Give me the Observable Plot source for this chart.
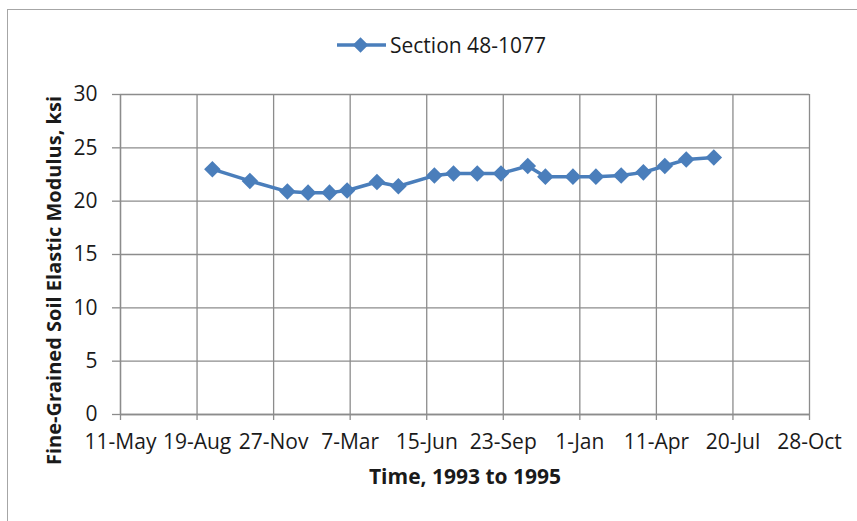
<!DOCTYPE html>
<html>
<head>
<meta charset="utf-8">
<script src="https://cdn.jsdelivr.net/npm/d3@7"></script>
<script src="https://cdn.jsdelivr.net/npm/@observablehq/plot@0.6"></script>
<style>
  body { margin: 0; background: #fff; }
  #wrap { position: relative; width: 857px; height: 521px; overflow: hidden; background: #fff; font-family: "Open Sans", sans-serif; }
  #frame { position: absolute; left: 7px; top: 9px; width: 900px; height: 600px; border-left: 1.5px solid #a6a6a6; border-top: 1.5px solid #a6a6a6; pointer-events: none; }
  #legend { position: relative; height: 60px; }
  #legend .item { position: absolute; left: 337px; top: 30px; height: 30px; display: flex; align-items: center; font-size: 21px; color: #1a1a1a; white-space: nowrap; }
  #legend svg { margin-right: 4px; }
  #chart svg { display: block; }
</style>
</head>
<body>
<div id="wrap">
  <div id="frame"></div>
  <div id="legend"><div class="item"><svg width="49" height="16"><line x1="0" y1="8" x2="49" y2="8" stroke="#4a7ebb" stroke-width="3.5"/><rect x="18" y="2.5" width="11" height="11" fill="#4a7ebb" transform="rotate(45 23.5 8)"/></svg><span id="legendText"></span></div></div>
  <div id="chart"></div>
</div>
<script>
const seriesName = "Section 48-1077";
const dates = ["1993-09-08","1993-10-27","1993-12-15","1994-01-11","1994-02-08","1994-03-03","1994-04-11","1994-05-09","1994-06-25","1994-07-20","1994-08-20","1994-09-20","1994-10-25","1994-11-17","1994-12-23","1995-01-22","1995-02-24","1995-03-25","1995-04-22","1995-05-20","1995-06-25"];
const modulus = [23.0, 21.9, 20.9, 20.8, 20.8, 21.0, 21.8, 21.4, 22.4, 22.6, 22.6, 22.6, 23.3, 22.3, 22.3, 22.3, 22.4, 22.7, 23.3, 23.9, 24.1];
const xTickDates = ["1993-05-11","1993-08-19","1993-11-27","1994-03-07","1994-06-15","1994-09-23","1995-01-01","1995-04-11","1995-07-20","1995-10-28"];
const yTicks = [0, 5, 10, 15, 20, 25, 30];
const xTitle = "Time, 1993 to 1995";
const yTitle = "Fine-Grained Soil Elastic Modulus, ksi";

document.getElementById("legendText").textContent = seriesName;

const data = dates.map((d, i) => ({date: new Date(d + "T00:00:00Z"), value: modulus[i]}));
const xt = xTickDates.map(d => new Date(d + "T00:00:00Z"));
const blue = "#4a7ebb";
const gridColor = "#8c8c8c";
const fmt = d3.utcFormat("%-d-%b");

const chart = Plot.plot({
  width: 857,
  height: 461,
  marginLeft: 120,
  marginRight: 48,
  marginTop: 34,
  marginBottom: 107,
  style: {fontFamily: "'Open Sans', sans-serif", fontSize: "21px", color: "#1a1a1a", background: "transparent", overflow: "visible"},
  x: {type: "utc", domain: [xt[0], xt[xt.length - 1]]},
  y: {domain: [0, 30]},
  marks: [
    Plot.gridY(yTicks, {stroke: gridColor, strokeOpacity: 1, strokeWidth: 1.3}),
    Plot.gridX(xt, {stroke: gridColor, strokeOpacity: 1, strokeWidth: 1.3}),
    Plot.axisY(yTicks, {tickSize: 8, tickPadding: 15, stroke: gridColor, strokeWidth: 1.3, label: null}),
    Plot.axisX(xt, {tickSize: 6, tickPadding: 14, stroke: gridColor, strokeWidth: 1.3, tickFormat: fmt, label: null}),
    Plot.ruleY([0], {stroke: gridColor, strokeWidth: 1.3}),
    Plot.ruleX([xt[0]], {stroke: gridColor, strokeWidth: 1.3}),
    Plot.line(data, {x: "date", y: "value", stroke: blue, strokeWidth: 3.5}),
    Plot.dot(data, {x: "date", y: "value", symbol: "square", r: 6.6, rotate: 45, fill: blue, stroke: "none"}),
    Plot.text([xTitle], {frameAnchor: "bottom", textAnchor: "middle", dy: 69, fontWeight: "bold", fontSize: 21, fill: "#1a1a1a"}),
    Plot.text([yTitle], {frameAnchor: "left", textAnchor: "middle", rotate: -90, dx: -66, dy: 26, fontWeight: "bold", fontSize: 20, fill: "#1a1a1a"})
  ]
});
document.getElementById("chart").appendChild(chart);
</script>
</body>
</html>
